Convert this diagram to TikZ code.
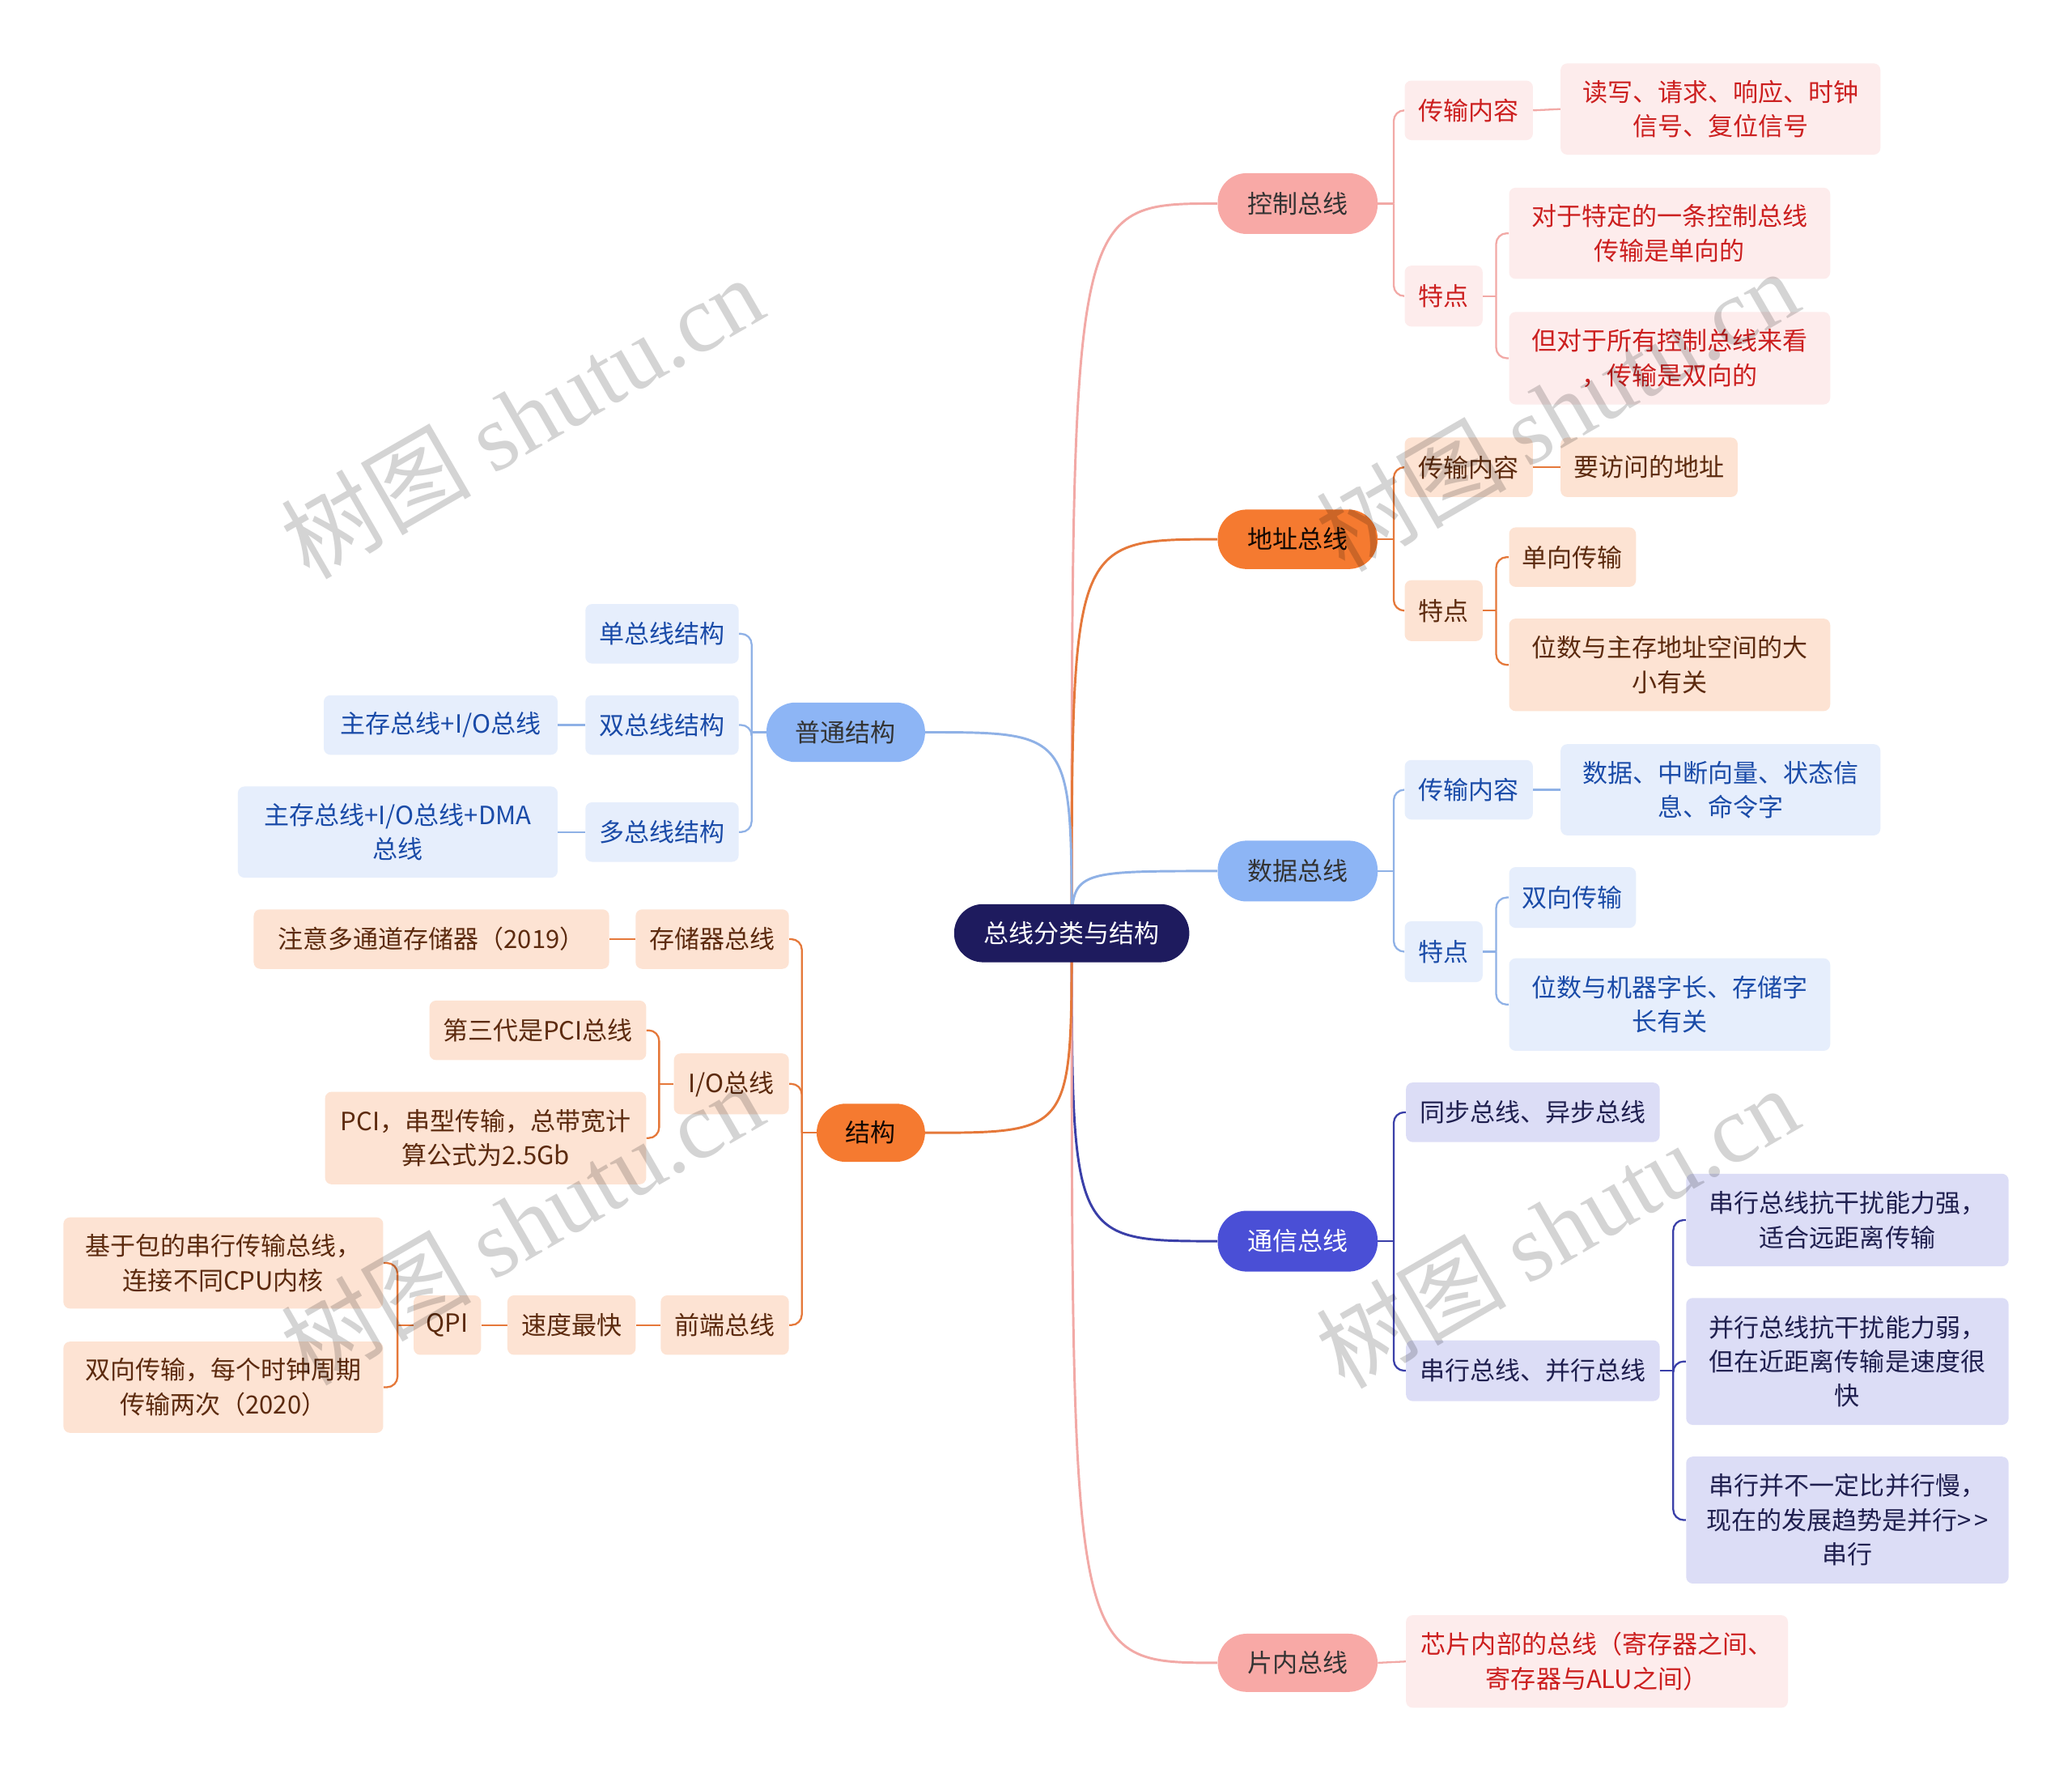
\documentclass[tikz,border=0pt]{standalone}
\usepackage{fontspec}
\setmainfont{Noto Sans CJK SC}
\newfontfamily\wmlatin{Liberation Serif}
\usetikzlibrary{backgrounds,calc}
\definecolor{rootc}{HTML}{1E1B5E}
\definecolor{pinkA}{HTML}{F8A9A6}
\definecolor{pinkB}{HTML}{FDECEC}
\definecolor{pinkT}{HTML}{CC1F1F}
\definecolor{pinkL}{HTML}{F2A9A6}
\definecolor{orA}{HTML}{F57A30}
\definecolor{orB}{HTML}{FDE3D3}
\definecolor{orT}{HTML}{5C2A0E}
\definecolor{orL}{HTML}{E5783A}
\definecolor{blA}{HTML}{8DB5F5}
\definecolor{blB}{HTML}{E6EEFC}
\definecolor{blT}{HTML}{1A4BA8}
\definecolor{blL}{HTML}{8FB1E6}
\definecolor{inA}{HTML}{4A4FD6}
\definecolor{inB}{HTML}{DCDDF6}
\definecolor{inT}{HTML}{1F1F4F}
\definecolor{inL}{HTML}{3A3FA8}
\begin{document}
\begin{tikzpicture}[x=1pt,y=-1pt,
  base/.style={inner sep=0pt, align=center, font=\fontsize{19}{26}\selectfont},
  rootnode/.style={base, fill=rootc, text=white, rounded corners=22pt},
  pill/.style={base, rounded corners=22pt},
  leaf/.style={base, rounded corners=5pt},
  pinkone/.style={pill, fill=pinkA, text=black!80},
  pinktwo/.style={leaf, fill=pinkB, text=pinkT},
  orone/.style={pill, fill=orA, text=black!80!orT},
  ortwo/.style={leaf, fill=orB, text=orT},
  blone/.style={pill, fill=blA, text=black!80},
  bltwo/.style={leaf, fill=blB, text=blT},
  inone/.style={pill, fill=inA, text=white},
  intwo/.style={leaf, fill=inB, text=inT},
  main/.style={line width=1.8pt},
  sub/.style={line width=1.4pt, rounded corners=8pt},
  wm/.style={text=black, opacity=0.17, rotate=30, font=\fontsize{72}{72}\selectfont, inner sep=0pt}
]
\useasboundingbox (0,0) rectangle (1568,1341);

% root
\node[rootnode, minimum width=178pt, minimum height=44pt] (root) at (811,706) {总线分类与结构};

% level 1 right
\node[pinkone, minimum width=121pt, minimum height=46pt] (cb) at (982,154) {控制总线};
\node[orone, minimum width=121pt, minimum height=45pt] (ab) at (982,408) {地址总线};
\node[blone, minimum width=121pt, minimum height=46pt] (db) at (982,659) {数据总线};
\node[inone, minimum width=121pt, minimum height=46pt] (tb) at (982,939) {通信总线};
\node[pinkone, minimum width=121pt, minimum height=44pt] (pb) at (982,1258) {片内总线};
% level 1 left
\node[blone, minimum width=120pt, minimum height=45pt] (pt) at (640,554) {普通结构};
\node[orone, minimum width=82pt, minimum height=44pt] (jg) at (659,857) {结构};

% control bus
\node[pinktwo, minimum width=97pt, minimum height=45pt] (cb1) at (1111.5,83.5) {传输内容};
\node[pinktwo, minimum width=242pt, minimum height=69pt] (cb11) at (1302,82.5) {读写、请求、响应、时钟\\信号、复位信号};
\node[pinktwo, minimum width=59pt, minimum height=46pt] (cb2) at (1092.5,224) {特点};
\node[pinktwo, minimum width=243pt, minimum height=69pt] (cb21) at (1263.5,176.5) {对于特定的一条控制总线\\传输是单向的};
\node[pinktwo, minimum width=243pt, minimum height=70pt] (cb22) at (1263.5,271) {但对于所有控制总线来看\\，传输是双向的};

% address bus
\node[ortwo, minimum width=97pt, minimum height=45pt] (ab1) at (1111.5,353.5) {传输内容};
\node[ortwo, minimum width=134pt, minimum height=45pt] (ab11) at (1248,353.5) {要访问的地址};
\node[ortwo, minimum width=59pt, minimum height=46pt] (ab2) at (1092.5,462) {特点};
\node[ortwo, minimum width=96pt, minimum height=45pt] (ab21) at (1190,421.5) {单向传输};
\node[ortwo, minimum width=243pt, minimum height=70pt] (ab22) at (1263.5,503) {位数与主存地址空间的大\\小有关};

% data bus
\node[bltwo, minimum width=97pt, minimum height=45pt] (db1) at (1111.5,597.5) {传输内容};
\node[bltwo, minimum width=242pt, minimum height=69pt] (db11) at (1302,597.5) {数据、中断向量、状态信\\息、命令字};
\node[bltwo, minimum width=59pt, minimum height=46pt] (db2) at (1092.5,720) {特点};
\node[bltwo, minimum width=96pt, minimum height=46pt] (db21) at (1190,679) {双向传输};
\node[bltwo, minimum width=243pt, minimum height=70pt] (db22) at (1263.5,760) {位数与机器字长、存储字\\长有关};

% communication bus
\node[intwo, minimum width=192pt, minimum height=45pt] (tb1) at (1160,841.5) {同步总线、异步总线};
\node[intwo, minimum width=192pt, minimum height=46pt] (tb2) at (1160,1037) {串行总线、并行总线};
\node[intwo, minimum width=244pt, minimum height=70pt] (tb21) at (1398,923) {串行总线抗干扰能力强，\\适合远距离传输};
\node[intwo, minimum width=244pt, minimum height=96pt] (tb22) at (1398,1030) {并行总线抗干扰能力弱，\\但在近距离传输是速度很\\快};
\node[intwo, minimum width=244pt, minimum height=96pt] (tb23) at (1398,1150) {串行并不一定比并行慢，\\现在的发展趋势是并行>\kern2pt>\\串行};

% on-chip bus
\node[pinktwo, minimum width=289pt, minimum height=70pt] (pb1) at (1208.5,1257) {芯片内部的总线（寄存器之间、\\寄存器与ALU之间）};

% common structure
\node[bltwo, minimum width=116pt, minimum height=45pt] (pt1) at (501,479.5) {单总线结构};
\node[bltwo, minimum width=116pt, minimum height=45pt] (pt2) at (501,548.5) {双总线结构};
\node[bltwo, minimum width=177pt, minimum height=45pt] (pt21) at (333.5,548.5) {主存总线+I/O总线};
\node[bltwo, minimum width=116pt, minimum height=45pt] (pt3) at (501,629.5) {多总线结构};
\node[bltwo, minimum width=242pt, minimum height=69pt] (pt31) at (301,629.5) {主存总线+I/O总线+DMA\\总线};

% structure
\node[ortwo, minimum width=116pt, minimum height=45pt] (jg1) at (539,710.5) {存储器总线};
\node[ortwo, minimum width=269pt, minimum height=45pt] (jg11) at (326.5,710.5) {注意多通道存储器（2019）};
\node[ortwo, minimum width=87pt, minimum height=46pt] (jg2) at (553.5,820) {I/O总线};
\node[ortwo, minimum width=164pt, minimum height=45pt] (jg21) at (407,779.5) {第三代是PCI总线};
\node[ortwo, minimum width=243pt, minimum height=70pt] (jg22) at (367.5,861) {PCI，串型传输，总带宽计\\算公式为2.5Gb};
\node[ortwo, minimum width=97pt, minimum height=45pt] (jg3) at (548.5,1002.5) {前端总线};
\node[ortwo, minimum width=97pt, minimum height=45pt] (jg31) at (432.5,1002.5) {速度最快};
\node[ortwo, minimum width=51pt, minimum height=45pt] (jg311) at (338.5,1002.5) {QPI};
\node[ortwo, minimum width=242pt, minimum height=69pt] (jg3111) at (169,955.5) {基于包的串行传输总线，\\连接不同CPU内核};
\node[ortwo, minimum width=242pt, minimum height=69pt] (jg3112) at (169,1049.5) {双向传输，每个时钟周期\\传输两次（2020）};

\begin{scope}[on background layer]
\fill[white] (0,0) rectangle (1568,1341);
% main curves
\draw[main, pinkL] (root.center) .. controls (root.center |- cb.west) and (root.center |- cb.west) .. (cb.west);
\draw[main, orL] (root.center) .. controls (root.center |- ab.west) and (root.center |- ab.west) .. (ab.west);
\draw[main, blL] (root.center) .. controls (root.center |- db.west) and (root.center |- db.west) .. (db.west);
\draw[main, inL] (root.center) .. controls (root.center |- tb.west) and (root.center |- tb.west) .. (tb.west);
\draw[main, pinkL] (root.center) .. controls (root.center |- pb.west) and (root.center |- pb.west) .. (pb.west);
\draw[main, blL] (root.center) .. controls (root.center |- pt.east) and (root.center |- pt.east) .. (pt.east);
\draw[main, orL] (root.center) .. controls (root.center |- jg.east) and (root.center |- jg.east) .. (jg.east);

% control bus
\draw[sub, pinkL] (cb.east) -- ++(12,0) coordinate (cbj);
\draw[sub, pinkL] (cbj) |- (cb1.west);
\draw[sub, pinkL] (cbj) |- (cb2.west);
\draw[sub, pinkL] (cb1.east) -- (cb11.west);
\draw[sub, pinkL] (cb2.east) -- ++(10,0) coordinate (cb2j);
\draw[sub, pinkL] (cb2j) |- (cb21.west);
\draw[sub, pinkL] (cb2j) |- (cb22.west);

% address bus
\draw[sub, orL] (ab.east) -- ++(12,0) coordinate (abj);
\draw[sub, orL] (abj) |- (ab1.west);
\draw[sub, orL] (abj) |- (ab2.west);
\draw[sub, orL] (ab1.east) -- (ab11.west);
\draw[sub, orL] (ab2.east) -- ++(10,0) coordinate (ab2j);
\draw[sub, orL] (ab2j) |- (ab21.west);
\draw[sub, orL] (ab2j) |- (ab22.west);

% data bus
\draw[sub, blL] (db.east) -- ++(12,0) coordinate (dbj);
\draw[sub, blL] (dbj) |- (db1.west);
\draw[sub, blL] (dbj) |- (db2.west);
\draw[sub, blL] (db1.east) -- (db11.west);
\draw[sub, blL] (db2.east) -- ++(10,0) coordinate (db2j);
\draw[sub, blL] (db2j) |- (db21.west);
\draw[sub, blL] (db2j) |- (db22.west);

% communication bus
\draw[sub, inL] (tb.east) -- ++(12,0) coordinate (tbj);
\draw[sub, inL] (tbj) |- (tb1.west);
\draw[sub, inL] (tbj) |- (tb2.west);
\draw[sub, inL] (tb2.east) -- ++(10,0) coordinate (tb2j);
\draw[sub, inL] (tb2j) |- (tb21.west);
\draw[sub, inL] (tb2j) |- (tb22.west);
\draw[sub, inL] (tb2j) |- (tb23.west);

% on-chip
\draw[sub, pinkL] (pb.east) -- (pb1.west);

% common structure
\draw[sub, blL] (pt.west) -- ++(-11,0) coordinate (ptj);
\draw[sub, blL] (ptj) |- (pt1.east);
\draw[sub, blL] (ptj) |- (pt2.east);
\draw[sub, blL] (ptj) |- (pt3.east);
\draw[sub, blL] (pt2.west) -- (pt21.east);
\draw[sub, blL] (pt3.west) -- (pt31.east);

% structure
\draw[sub, orL] (jg.west) -- ++(-11,0) coordinate (jgj);
\draw[sub, orL] (jgj) |- (jg1.east);
\draw[sub, orL] (jgj) |- (jg2.east);
\draw[sub, orL] (jgj) |- (jg3.east);
\draw[sub, orL] (jg1.west) -- (jg11.east);
\draw[sub, orL] (jg2.west) -- ++(-11,0) coordinate (jg2j);
\draw[sub, orL] (jg2j) |- (jg21.east);
\draw[sub, orL] (jg2j) |- (jg22.east);
\draw[sub, orL] (jg3.west) -- (jg31.east);
\draw[sub, orL] (jg31.west) -- (jg311.east);
\draw[sub, orL] (jg311.west) -- ++(-12,0) coordinate (jg311j);
\draw[sub, orL] (jg311j) |- (jg3111.east);
\draw[sub, orL] (jg311j) |- (jg3112.east);
\end{scope}

% watermarks
\node[wm] (wm1) at (395,315) {树图 {\wmlatin shutu.cn}};
\node[wm] (wm2) at (395,925) {树图 {\wmlatin shutu.cn}};
\node[wm] (wm3) at (1178,310) {树图 {\wmlatin shutu.cn}};
\node[wm] (wm4) at (1178,928) {树图 {\wmlatin shutu.cn}};
\end{tikzpicture}
\end{document}
